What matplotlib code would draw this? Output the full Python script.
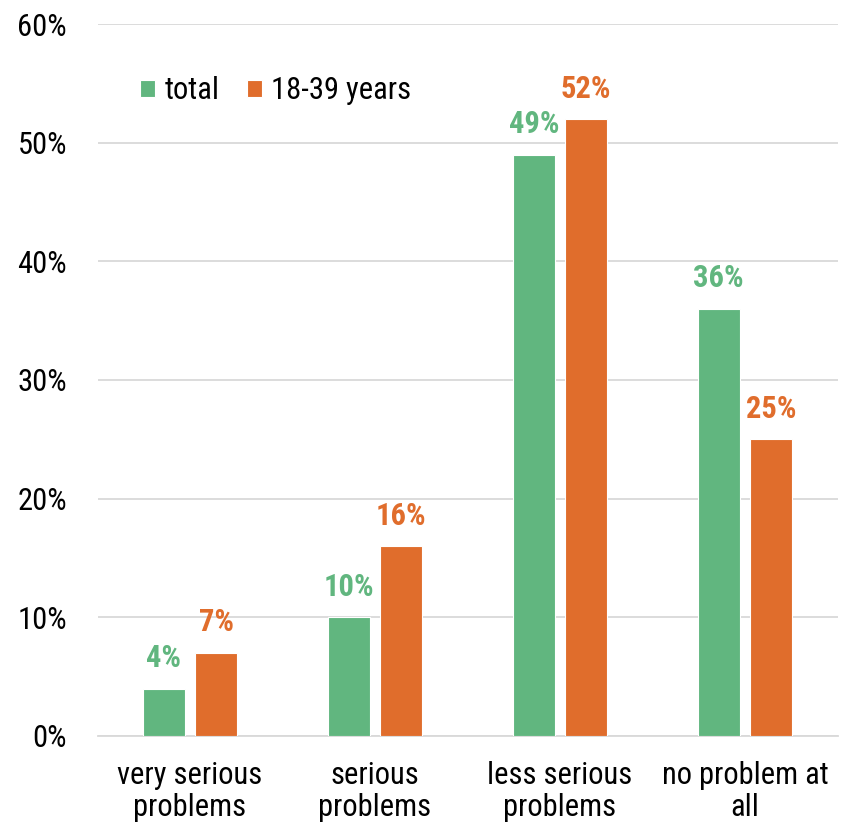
import matplotlib.pyplot as plt
from matplotlib import font_manager
import numpy as np

categories = ["very serious\nproblems", "serious\nproblems", "less serious\nproblems", "no problem at\nall"]
total = [4, 10, 49, 36]
young = [7, 16, 52, 25]
series_names = ["total", "18-39 years"]

green = "#61B67F"
orange = "#E06D2C"

# pick a narrow font if one is around
family = "Liberation Sans"
narrow = False
for name in ["Liberation Sans Narrow", "Arial Narrow", "Roboto Condensed", "Open Sans Condensed"]:
    try:
        font_manager.findfont(name, fallback_to_default=False)
        family = name
        narrow = True
        break
    except Exception:
        pass
plt.rcParams['font.family'] = [family, 'DejaVu Sans']
fs = 22 if narrow else 19

fig = plt.figure(figsize=(8.42, 8.25), dpi=100)
ax = fig.add_axes([0.1158, 0.1079, 0.8789, 0.863])

x = np.arange(len(categories))
w = 0.227
b1 = ax.bar(x - 0.142, total, w, color=green, edgecolor="white", linewidth=0.8, label=series_names[0], zorder=3)
b2 = ax.bar(x + 0.142, young, w, color=orange, edgecolor="white", linewidth=0.8, label=series_names[1], zorder=3)

for bars, vals, c in [(b1, total, green), (b2, young, orange)]:
    for r, v in zip(bars, vals):
        ax.text(r.get_x() + r.get_width() / 2, v + 1.3, f"{v}%", ha="center", va="bottom",
                fontsize=fs, fontweight="bold", color=c)

ax.set_xlim(-0.5, 3.5)
ax.set_ylim(0, 60)
ax.set_yticks(range(0, 61, 10))
ax.set_yticklabels([f"{t}%" for t in range(0, 61, 10)])
ax.set_xticks(x)
ax.set_xticklabels(categories, fontsize=fs, linespacing=1.15)
ax.tick_params(axis="y", labelsize=fs, length=0, pad=22)
ax.tick_params(axis="x", length=0, pad=18)
ax.grid(axis="y", color="#D9D9D9", linewidth=1.3, zorder=0)
for s in ["top", "right", "left"]:
    ax.spines[s].set_visible(False)
ax.spines["bottom"].set_color("#D9D9D9")
ax.spines["bottom"].set_linewidth(1.3)

ax.legend(loc="upper left", bbox_to_anchor=(0.02, 0.965), ncol=2, frameon=False, fontsize=fs,
          handlelength=0.5, handleheight=0.5, handletextpad=0.3, columnspacing=0.9)

plt.savefig("out.png", dpi=100)
